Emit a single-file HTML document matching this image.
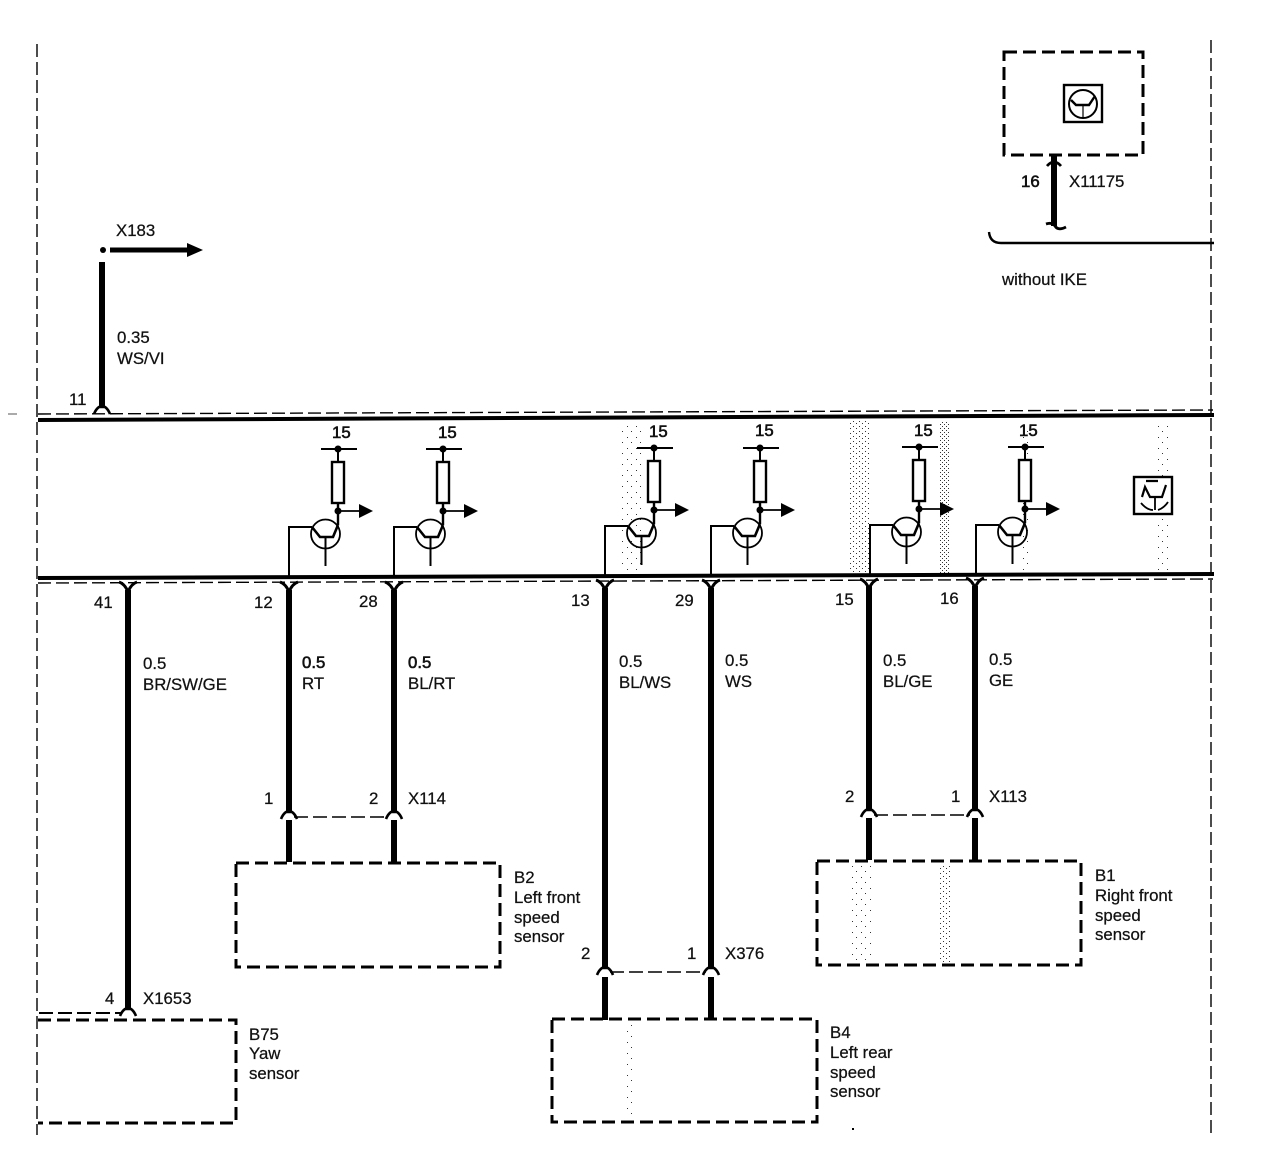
<!DOCTYPE html>
<html><head><meta charset="utf-8"><style>
html,body{margin:0;padding:0;background:#fff}
svg{display:block}
text{font-family:"Liberation Sans",sans-serif;font-size:16.8px;fill:#111;stroke:#111;stroke-width:.25}
.b{stroke-width:.6}
</style></head><body>
<svg width="1264" height="1166" viewBox="0 0 1264 1166" xmlns="http://www.w3.org/2000/svg">
<defs>
<pattern id="sp" width="4" height="4" patternUnits="userSpaceOnUse"><rect x="0" y="0" width="1" height="1" fill="#333"/><rect x="2" y="2" width="1" height="1" fill="#333"/></pattern>
<pattern id="sm" width="6" height="5" patternUnits="userSpaceOnUse"><rect x="1" y="1" width="1" height="1" fill="#333"/><rect x="4" y="3" width="1" height="1" fill="#333"/></pattern>
<pattern id="sl" width="9" height="11" patternUnits="userSpaceOnUse"><rect x="1" y="2" width="1" height="1" fill="#333"/><rect x="6" y="8" width="1" height="1" fill="#333"/></pattern>
<g id="t" fill="none" stroke="#000">
<path d="M-17,0H19" stroke-width="2"/>
<circle cx="0" cy="0" r="3.5" fill="#000" stroke="none"/>
<path d="M0,0V13" stroke-width="2"/>
<rect x="-6" y="13" width="12" height="41" stroke-width="2.4" fill="#fff"/>
<path d="M0,54V76" stroke-width="2.4"/>
<circle cx="0" cy="62" r="3.5" fill="#000" stroke="none"/>
<path d="M0,62H22" stroke-width="1.8"/>
<path d="M21,55L35,62L21,69Z" fill="#000" stroke="none"/>
<circle cx="-12.5" cy="85" r="14.5" stroke-width="1.8"/>
<path d="M-49,129V78H-26" stroke-width="2"/>
<path d="M-26,78L-18,88H-5L0,76" stroke-width="2.6"/>
<path d="M-12.5,88V117" stroke-width="2"/>
</g>
<path id="y" d="M-9,1Q-3,3 0,11Q3,3 9,1" fill="none" stroke="#000" stroke-width="3"/>
<path id="a" d="M-8,4Q-6,-1 -3,-3H3Q6,-1 8,4" fill="none" stroke="#000" stroke-width="2.6"/>
</defs>

<!-- speckle -->
<rect x="850" y="421" width="19" height="152" fill="url(#sm)"/>
<rect x="940" y="421" width="9" height="152" fill="url(#sp)"/>
<rect x="1020" y="421" width="12" height="152" fill="url(#sl)"/>
<rect x="1157" y="421" width="12" height="152" fill="url(#sl)"/>
<rect x="620" y="421" width="22" height="152" fill="url(#sl)"/>
<rect x="850" y="864" width="24" height="98" fill="url(#sl)"/>
<rect x="938" y="864" width="12" height="98" fill="url(#sm)"/>
<rect x="625" y="1025" width="10" height="90" fill="url(#sl)"/>

<!-- frame dashes -->
<g fill="none" stroke="#000" stroke-width="1.4" stroke-dasharray="13 5">
<path d="M37,44V1135"/>
<path d="M1211,40V1135"/>
<path d="M38,414L1213,410"/>
<path d="M38,583L1213,579"/>
</g>
<path d="M8,414H17" stroke="#555" stroke-width="1"/>
<path d="M38,420L1214,415" stroke="#000" stroke-width="4"/>
<path d="M38,578L1214,574" stroke="#000" stroke-width="4"/>

<!-- transistor groups -->
<use href="#t" x="338" y="449"/>
<use href="#t" x="443" y="449"/>
<use href="#t" x="654" y="448"/>
<use href="#t" x="760" y="448"/>
<use href="#t" x="919" y="447"/>
<use href="#t" x="1025" y="447"/>

<!-- wires -->
<g stroke="#000" stroke-width="6" fill="none">
<path d="M128,590V1010"/>
<path d="M289,590V812M289,820V862"/>
<path d="M394,590V812M394,820V862"/>
<path d="M605,588V968M605,977V1020"/>
<path d="M711,588V968M711,977V1018"/>
<path d="M869,586V810M869,818V860"/>
<path d="M975,586V810M975,818V860"/>
</g>
<path d="M102,262V408" stroke="#000" stroke-width="6"/>
<circle cx="103" cy="250" r="3" fill="#000"/>
<path d="M110,250H190" stroke="#000" stroke-width="5"/>
<path d="M187,243L203,250L187,257Z" fill="#000"/>
<use href="#a" x="102" y="410"/>

<use href="#y" x="128" y="581"/>
<use href="#y" x="289" y="581"/>
<use href="#y" x="394" y="581"/>
<use href="#y" x="605" y="579"/>
<use href="#y" x="711" y="579"/>
<use href="#y" x="869" y="578"/>
<use href="#y" x="975" y="577"/>
<use href="#a" x="289" y="815"/>
<use href="#a" x="394" y="815"/>
<use href="#a" x="605" y="971"/>
<use href="#a" x="711" y="971"/>
<use href="#a" x="869" y="813"/>
<use href="#a" x="975" y="813"/>
<use href="#a" x="128" y="1012"/>

<!-- pair links -->
<g fill="none" stroke="#000" stroke-width="1.6" stroke-dasharray="14 5">
<path d="M294,817H388"/>
<path d="M874,815H970"/>
<path d="M610,972H706"/>
<path d="M39,1013H122" stroke-width="2"/>
</g>

<!-- sensor boxes -->
<g fill="none" stroke="#000" stroke-width="3" stroke-dasharray="13 6">
<rect x="236" y="863" width="264" height="104"/>
<rect x="817" y="861" width="264" height="104"/>
<rect x="552" y="1019" width="265" height="103"/>
<path d="M38,1020H236V1123H38"/>
<rect x="1004" y="52" width="139" height="103"/>
</g>

<!-- top right -->
<rect x="1064" y="85" width="38" height="37" fill="#fff" stroke="#000" stroke-width="2.4"/>
<circle cx="1083" cy="104" r="14" fill="none" stroke="#000" stroke-width="2"/>
<path d="M1071,100L1076,105H1089L1095,96" fill="none" stroke="#000" stroke-width="2.4"/>
<path d="M1083,105V118" stroke="#000" stroke-width="1.2"/>
<path d="M1054,156V226" stroke="#000" stroke-width="6"/>
<path d="M1047,166Q1054,158 1061,166" fill="none" stroke="#000" stroke-width="2.8"/>
<path d="M1046,224Q1052,222 1055,226Q1058,231 1066,227" fill="none" stroke="#000" stroke-width="2.8"/>
<path d="M989,232Q990,243 1001,243H1214" fill="none" stroke="#000" stroke-width="2.4"/>

<!-- small right icon -->
<rect x="1134" y="477" width="38" height="37" fill="#fff" stroke="#000" stroke-width="2.4"/>
<path d="M1142,497L1145,487L1150,497H1162L1166,485M1146,481H1158" fill="none" stroke="#000" stroke-width="2.2"/>
<path d="M1141,503Q1147,510 1153,510M1155,497V510M1158,510Q1164,508 1168,502" fill="none" stroke="#000" stroke-width="1.8"/>

<!-- labels -->
<text x="116" y="236">X183</text>
<text x="117" y="343">0.35</text>
<text x="117" y="364">WS/VI</text>
<text x="69" y="405">11</text>
<text x="1021" y="187" class="b">16</text>
<text x="1069" y="187">X11175</text>
<text x="1002" y="285">without IKE</text>

<text x="332" y="438" class="b">15</text>
<text x="438" y="438" class="b">15</text>
<text x="649" y="437" class="b">15</text>
<text x="755" y="436" class="b">15</text>
<text x="914" y="436" class="b">15</text>
<text x="1019" y="436" class="b">15</text>

<text x="94" y="608">41</text>
<text x="254" y="608">12</text>
<text x="359" y="607">28</text>
<text x="571" y="606">13</text>
<text x="675" y="606">29</text>
<text x="835" y="605">15</text>
<text x="940" y="604">16</text>

<text x="143" y="669">0.5</text><text x="143" y="690">BR/SW/GE</text>
<text x="302" y="668" class="b">0.5</text><text x="302" y="689">RT</text>
<text x="408" y="668" class="b">0.5</text><text x="408" y="689">BL/RT</text>
<text x="619" y="667">0.5</text><text x="619" y="688">BL/WS</text>
<text x="725" y="666">0.5</text><text x="725" y="687">WS</text>
<text x="883" y="666">0.5</text><text x="883" y="687">BL/GE</text>
<text x="989" y="665">0.5</text><text x="989" y="686">GE</text>

<text x="264" y="804">1</text><text x="369" y="804">2</text><text x="408" y="804">X114</text>
<text x="845" y="802">2</text><text x="951" y="802">1</text><text x="989" y="802">X113</text>
<text x="581" y="959">2</text><text x="687" y="959">1</text><text x="725" y="959">X376</text>
<text x="105" y="1004">4</text><text x="143" y="1004">X1653</text>

<text x="514" y="883">B2</text><text x="514" y="903">Left front</text><text x="514" y="923">speed</text><text x="514" y="942">sensor</text>
<text x="1095" y="881">B1</text><text x="1095" y="901">Right front</text><text x="1095" y="921">speed</text><text x="1095" y="940">sensor</text>
<text x="830" y="1038">B4</text><text x="830" y="1058">Left rear</text><text x="830" y="1078">speed</text><text x="830" y="1097">sensor</text>
<text x="249" y="1040">B75</text><text x="249" y="1059">Yaw</text><text x="249" y="1079">sensor</text>
<rect x="852" y="1128" width="2" height="2" fill="#000"/>
</svg>
</body></html>
